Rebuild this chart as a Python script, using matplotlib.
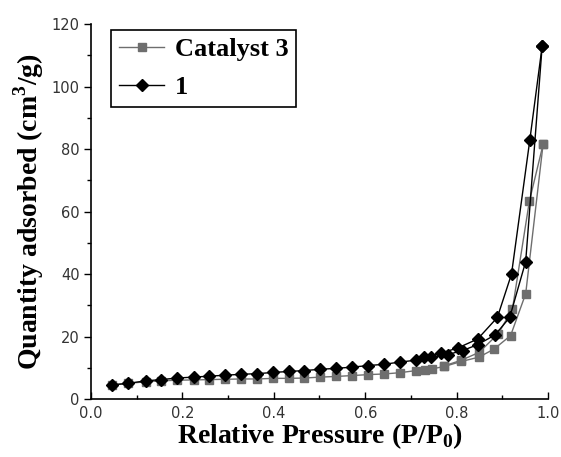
import numpy as np
import matplotlib
matplotlib.use('Agg')
import matplotlib.pyplot as plt
from matplotlib.ticker import MultipleLocator, FormatStrFormatter

plt.rcParams.update({
    "font.family": "Liberation Serif",
    "mathtext.fontset": "custom",
    "mathtext.rm": "Liberation Serif:bold",
    "mathtext.bf": "Liberation Serif:bold",
})

# Catalyst 3 (gray squares) - adsorption / desorption branches
cat3_ads_x = [0.046, 0.081, 0.120, 0.154, 0.188, 0.225, 0.259, 0.293, 0.329, 0.364,
              0.399, 0.433, 0.467, 0.502, 0.536, 0.572, 0.607, 0.641, 0.675, 0.712,
              0.730, 0.745, 0.773, 0.810, 0.849, 0.882, 0.918, 0.951, 0.989]
cat3_ads_y = [4.5, 5.0, 5.5, 5.8, 6.0, 6.1, 6.2, 6.3, 6.4, 6.4,
              6.6, 6.6, 6.7, 7.0, 7.2, 7.5, 7.8, 8.0, 8.4, 9.1,
              9.3, 9.6, 10.4, 12.0, 13.4, 16.0, 20.3, 33.7, 81.5]
cat3_des_x = [0.989, 0.959, 0.922, 0.891, 0.849, 0.810, 0.773]
cat3_des_y = [81.5, 63.3, 28.8, 20.9, 14.9, 12.4, 10.6]

# Sample 1 (black diamonds)
s1_ads_x = [0.046, 0.081, 0.120, 0.154, 0.188, 0.225, 0.259, 0.293, 0.329, 0.364,
            0.399, 0.433, 0.467, 0.502, 0.536, 0.572, 0.607, 0.641, 0.675, 0.710,
            0.744, 0.780, 0.813, 0.846, 0.884, 0.916, 0.951, 0.987]
s1_ads_y = [4.5, 5.0, 5.8, 6.2, 6.7, 7.0, 7.3, 7.6, 7.9, 8.1,
            8.5, 8.8, 9.1, 9.5, 9.8, 10.2, 10.7, 11.1, 11.8, 12.4,
            13.3, 14.2, 15.5, 17.4, 20.5, 26.1, 44.0, 113.0]
s1_des_x = [0.987, 0.960, 0.920, 0.889, 0.846, 0.802, 0.766, 0.728]
s1_des_y = [113.0, 82.9, 40.0, 26.1, 19.2, 16.3, 14.7, 13.4]

GRAY = "#6e6e6e"

fig = plt.figure(figsize=(5.61, 4.57), dpi=100)
ax = fig.add_axes([0.162, 0.127, 0.815, 0.820])

ax.plot(cat3_ads_x, cat3_ads_y, color=GRAY, lw=1.0, marker="s", ms=5.5,
        label="Catalyst 3", zorder=2)
ax.plot(cat3_des_x, cat3_des_y, color=GRAY, lw=1.0, marker="s", ms=5.5, zorder=2)
ax.plot(s1_ads_x, s1_ads_y, color="black", lw=1.0, marker="D", ms=6.5,
        label="1", zorder=3)
ax.plot(s1_des_x, s1_des_y, color="black", lw=1.0, marker="D", ms=6.5, zorder=3)

ax.set_xlim(0, 1.0)
ax.set_ylim(0, 120)
ax.xaxis.set_major_locator(MultipleLocator(0.2))
ax.xaxis.set_minor_locator(MultipleLocator(0.1))
ax.xaxis.set_major_formatter(FormatStrFormatter("%.1f"))
ax.yaxis.set_major_locator(MultipleLocator(20))
ax.yaxis.set_minor_locator(MultipleLocator(10))

for s in ("top", "right"):
    ax.spines[s].set_visible(False)
for s in ("left", "bottom"):
    ax.spines[s].set_linewidth(1.2)

ax.tick_params(axis="x", which="major", direction="in", length=5, width=1.0,
               labelsize=10.5, pad=5)
ax.tick_params(axis="x", which="minor", direction="in", length=3, width=1.0)
ax.tick_params(axis="y", which="major", direction="out", length=5, width=1.0,
               labelsize=10.5, pad=3)
ax.tick_params(axis="y", which="minor", direction="out", length=3, width=1.0)
for lbl in ax.get_xticklabels() + ax.get_yticklabels():
    lbl.set_family("DejaVu Sans")
    lbl.set_color("#333333")

ax.set_xlabel(r"Relative Pressure (P/P$_{0}$)", fontsize=20, fontweight="bold",
              labelpad=0)
ax.set_ylabel(r"Quantity adsorbed (cm$^{3}$/g)", fontsize=20, fontweight="bold",
              labelpad=4)

leg = ax.legend(loc="upper left", bbox_to_anchor=(0.045, 0.985), fancybox=False,
                framealpha=1.0, edgecolor="black", handlelength=1.7,
                handletextpad=0.4, borderpad=0.3, labelspacing=0.55,
                borderaxespad=0.0,
                prop={"family": "Liberation Serif", "weight": "bold", "size": 19})
leg.get_frame().set_linewidth(1.2)

fig.savefig("out.png", dpi=100)
